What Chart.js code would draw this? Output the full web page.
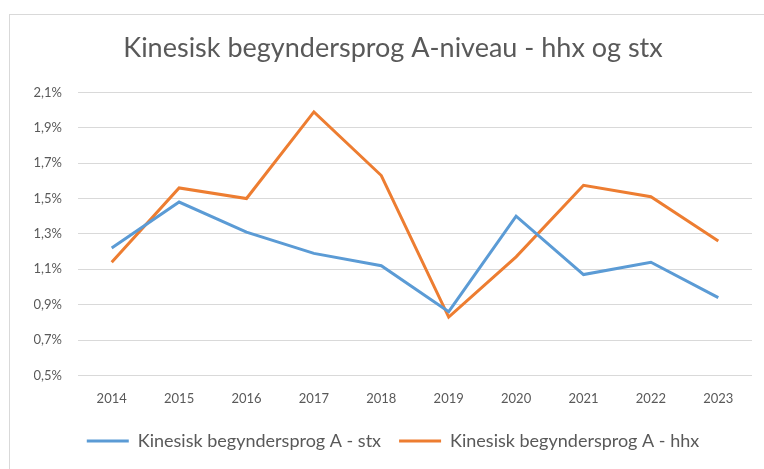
<!DOCTYPE html>
<html>
<head>
<meta charset="utf-8">
<script src="https://cdn.jsdelivr.net/npm/chart.js@4"></script>
<style>
  body { margin: 0; background: #fff; }
  #frame { position: absolute; left: 9px; top: 14px; width: 760px; height: 460px;
           border-left: 1px solid #d9d9d9; border-top: 1px solid #d9d9d9; }
  #wrap { position: absolute; left: 0; top: 0; width: 764px; height: 469px; }
</style>
</head>
<body>
<div id="frame"></div>
<div id="wrap"><canvas id="chart" width="764" height="469"></canvas></div>
<script>
// Years on the x axis
const years = ["2014", "2015", "2016", "2017", "2018", "2019", "2020", "2021", "2022", "2023"];

// Share in percent
const stx = [1.22, 1.48, 1.31, 1.19, 1.12, 0.86, 1.40, 1.07, 1.14, 0.94];
const hhx = [1.14, 1.56, 1.50, 1.99, 1.63, 0.83, 1.17, 1.575, 1.51, 1.26];

const yMin = 0.5;
const yMax = 2.1;
const yStep = 0.2;

const textColor = "#595959";
const font = "Lato, 'Liberation Sans', sans-serif";

const ctx = document.getElementById("chart").getContext("2d");
const chart = new Chart(ctx, {
  type: "line",
  data: {
    labels: years,
    datasets: [
      {
        label: "Kinesisk begyndersprog A - stx",
        data: stx,
        borderColor: "#5b9bd5",
        backgroundColor: "#5b9bd5",
        borderWidth: 3,
        pointRadius: 0,
        tension: 0,
      },
      {
        label: "Kinesisk begyndersprog A - hhx",
        data: hhx,
        borderColor: "#ed7d31",
        backgroundColor: "#ed7d31",
        borderWidth: 3,
        pointRadius: 0,
        tension: 0,
      },
    ],
  },
  options: {
    responsive: false,
    animation: false,
    layout: { padding: { top: 2, right: 12, left: 34, bottom: 9 } },
    plugins: {
      title: {
        display: true,
        text: "Kinesisk begyndersprog A-niveau - hhx og stx",
        color: textColor,
        font: { family: font, size: 27, weight: "normal" },
        padding: { top: 30, bottom: 28 },
      },
      legend: {
        position: "bottom",
        labels: {
          color: textColor,
          font: { family: font, size: 18 },
          boxWidth: 42,
          boxHeight: 3,
          padding: 18,
          generateLabels: (c) =>
            Chart.defaults.plugins.legend.labels
              .generateLabels(c)
              .map((l) => ({ ...l, lineWidth: 0 })),
        },
      },
      tooltip: { enabled: false },
    },
    scales: {
      x: {
        offset: true,
        afterFit: (scale) => { scale.height -= 1; },
        grid: { display: false },
        border: { display: false },
        ticks: { color: textColor, font: { family: font, size: 13 }, padding: 8 },
      },
      y: {
        min: yMin,
        max: yMax,
        afterFit: (scale) => { scale.width = 44; },
        afterBuildTicks: (scale) => {
          const ticks = [];
          for (let v = yMin; v <= yMax + 1e-9; v += yStep) ticks.push({ value: +v.toFixed(1) });
          scale.ticks = ticks;
        },
        grid: { color: "#d9d9d9", lineWidth: 1, drawTicks: false },
        border: { display: false },
        ticks: {
          color: textColor,
          font: { family: font, size: 13 },
          padding: 16,
          callback: (v) => v.toFixed(1).replace(".", ",") + "%",
        },
      },
    },
  },
});
</script>
</body>
</html>
